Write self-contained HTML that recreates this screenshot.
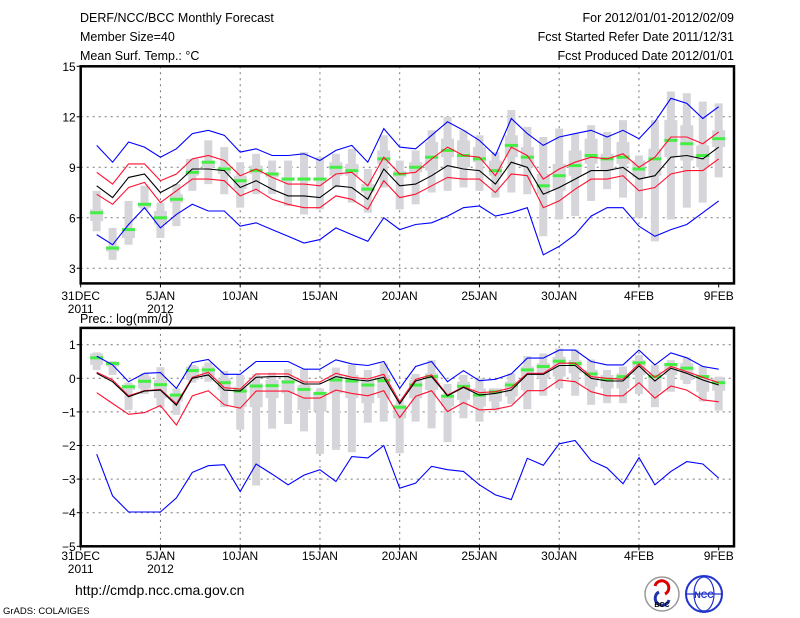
<!DOCTYPE html>
<html><head><meta charset="utf-8">
<style>
body{margin:0;background:#fff;}
svg{display:block;font-family:"Liberation Sans",sans-serif;}
text{fill:#000;}
</style></head>
<body>
<svg id="chart" width="800" height="618" viewBox="0 0 800 618" xmlns="http://www.w3.org/2000/svg">
<rect x="0" y="0" width="800" height="618" fill="#fff"/>
<g font-size="12.5">
<text x="80" y="22">DERF/NCC/BCC Monthly Forecast</text>
<text x="80" y="41">Member Size=40</text>
<text x="80" y="60">Mean Surf. Temp.: °C</text>
<text x="734" y="22" text-anchor="end">For 2012/01/01-2012/02/09</text>
<text x="734" y="41" text-anchor="end">Fcst Started Refer Date 2011/12/31</text>
<text x="734" y="60" text-anchor="end">Fcst Produced Date 2012/01/01</text>
</g>
<text x="80" y="323" font-size="12.5">Prec.: log(mm/d)</text>
<text x="75" y="595" font-size="14">http://cmdp.ncc.cma.gov.cn</text>
<text x="3" y="614" font-size="9.5">GrADS: COLA/IGES</text>
<g>
<circle cx="662" cy="594" r="17" fill="#fff" stroke="#999" stroke-width="1.5"/>
<path d="M655 586 a7 7 0 1 1 10 8" fill="none" stroke="#d00" stroke-width="3"/>
<path d="M669 600 a7 7 0 1 1 -10 -8" fill="none" stroke="#23a" stroke-width="3"/>
<text x="662" y="607" font-size="7" text-anchor="middle" font-weight="bold">BCC</text>
</g>
<g>
<circle cx="704" cy="594" r="18" fill="#fff" stroke="#23c" stroke-width="2"/>
<ellipse cx="704" cy="594" rx="10" ry="17" fill="none" stroke="#23c" stroke-width="1.2"/>
<line x1="686" y1="594" x2="722" y2="594" stroke="#23c" stroke-width="1.2"/>
<text x="704" y="598" font-size="9" text-anchor="middle" fill="#23c" style="fill:#23c" font-weight="bold">NCC</text>
</g>
<g id="top"></g>
<g id="bot"></g>
</svg>
<script>
// ---- data: top panel (temperature, days 1..40) ----
const dayTicks = [0,5,10,15,20,25,30,35,40];
const dayLabels = ["31DEC","5JAN","10JAN","15JAN","20JAN","25JAN","30JAN","4FEB","9FEB"];
const yearLabels = ["2011","2012","","","","","","",""];
const tTicks = [15,12,9,6,3];
const tMax = [10.3,9.3,10.5,10.2,9.6,10.1,11.0,11.2,10.9,9.9,10.1,9.7,9.7,9.8,9.4,10.0,10.3,9.3,11.3,10.2,10.1,10.9,11.7,11.2,10.6,9.7,11.9,11.0,10.3,10.8,11.0,11.2,10.8,11.2,10.7,11.7,13.1,12.8,11.9,12.6];
const tUp = [8.7,8.0,9.2,9.2,8.2,8.6,9.5,9.7,9.4,8.5,8.9,8.4,8.0,8.0,7.9,8.6,8.7,7.9,9.6,8.6,8.7,9.5,10.2,9.7,9.6,8.5,10.2,9.7,8.3,8.9,9.3,9.6,9.5,9.8,9.0,9.6,10.8,10.8,10.4,11.1];
const tMean = [7.9,7.2,8.4,8.6,7.5,8.0,8.9,8.9,8.8,7.8,8.2,7.7,7.3,7.3,7.2,7.9,7.8,7.1,8.9,7.9,8.0,8.5,9.1,8.9,8.8,8.0,9.3,9.0,7.4,7.8,8.3,8.8,8.8,9.0,8.3,8.5,9.6,9.7,9.5,10.2];
const tLo = [7.4,6.8,7.8,8.1,6.9,7.6,8.3,8.3,8.2,7.3,7.7,7.1,6.8,6.6,6.6,7.3,7.1,6.5,8.2,7.2,7.4,7.9,8.4,8.3,8.3,7.5,8.6,8.5,6.6,7.0,7.7,8.3,8.3,8.5,7.6,7.8,8.6,8.8,8.8,9.5];
const tMin = [5.0,4.4,5.6,6.6,5.4,6.2,6.8,6.4,6.4,5.5,5.7,5.3,4.9,4.5,4.7,5.4,5.0,4.6,6.0,5.3,5.6,5.7,6.1,6.6,6.7,6.1,6.3,6.6,3.8,4.3,5.0,6.1,6.6,6.6,5.5,4.9,5.3,5.6,6.3,7.0];
const tObs = [6.3,4.2,5.3,6.8,6.0,7.1,8.7,9.3,8.9,8.2,8.8,8.6,8.3,8.3,8.3,9.0,8.8,7.7,9.5,8.6,9.0,9.6,10.0,9.7,9.5,8.8,10.3,9.6,7.9,8.5,9.1,9.7,9.5,9.6,8.9,9.5,10.6,10.4,9.7,10.7];
const tWhHi = [7.6,5.4,7.0,7.9,6.9,8.0,9.5,10.6,10.2,9.3,9.8,9.4,9.4,9.9,9.6,9.8,10.1,8.9,10.9,9.4,10.0,11.2,12.0,11.2,10.9,9.9,12.4,11.4,10.8,11.3,11.0,11.5,11.1,11.8,9.7,11.8,13.5,13.4,12.9,12.8];
const tWhLo = [5.2,3.5,4.4,6.5,4.8,5.5,7.6,8.0,7.4,6.6,7.4,7.4,6.7,6.2,6.5,7.8,6.9,6.3,7.8,6.5,6.8,7.5,7.6,7.8,7.6,7.2,7.5,7.4,4.9,5.9,6.1,7.0,7.7,7.2,6.0,4.6,5.9,6.6,6.9,8.4];
const tQHi = [6.5,4.3,5.3,6.9,6.4,7.4,9.5,9.4,9.0,8.5,9.1,8.7,8.4,8.4,8.3,9.3,9.2,8.0,10.0,8.8,9.3,10.5,10.7,10.6,10.2,9.4,10.9,10.2,8.6,9.2,10.0,10.7,9.8,10.5,9.4,10.1,11.8,11.5,10.3,11.2];
const tQLo = [5.8,4.0,4.8,6.6,5.6,6.9,8.5,9.0,8.6,7.7,8.6,8.4,8.2,8.2,8.2,8.5,8.5,7.5,9.2,8.4,8.7,8.8,9.6,9.0,9.3,8.5,9.6,9.0,7.4,7.6,8.5,9.2,8.8,9.2,8.4,8.5,9.6,9.4,9.0,10.2];
// ---- data: bottom panel (precip log, days 1..40) ----
const pTicks = [1,0,-1,-2,-3,-4,-5];
const pMax = [0.66,0.4,-0.1,0.15,0.17,-0.3,0.47,0.56,0.12,0.12,0.5,0.5,0.5,0.27,0.27,0.55,0.43,0.38,0.5,-0.3,0.35,0.5,-0.1,0.23,-0.07,-0.03,0.13,0.6,0.6,0.84,0.84,0.5,0.4,0.4,0.84,0.4,0.76,0.61,0.35,0.27];
const pUp = [0.18,-0.05,-0.52,-0.37,-0.33,-0.76,0.03,0.18,-0.28,-0.32,0.13,0.13,0.13,-0.11,-0.11,0.15,0.03,-0.02,0.12,-0.7,-0.03,0.1,-0.5,-0.25,-0.43,-0.4,-0.28,0.15,0.15,0.45,0.45,0.05,0,-0.03,0.43,0.03,0.35,0.2,0.03,-0.13];
const pMean = [0.15,-0.1,-0.55,-0.38,-0.35,-0.8,0.0,0.1,-0.35,-0.38,0.03,0.05,0.05,-0.17,-0.17,0.05,-0.03,-0.08,0.03,-0.76,-0.08,0.05,-0.52,-0.27,-0.5,-0.45,-0.35,0.12,0.12,0.38,0.38,0,-0.08,-0.08,0.37,-0.08,0.3,0.15,-0.05,-0.2];
const pLo = [-0.43,-0.75,-1.07,-1.02,-0.81,-1.39,-0.52,-0.37,-0.79,-0.89,-0.38,-0.38,-0.38,-0.59,-0.59,-0.35,-0.45,-0.52,-0.37,-1.17,-0.54,-0.37,-0.99,-0.72,-0.94,-0.92,-0.82,-0.37,-0.37,-0.05,-0.1,-0.4,-0.52,-0.52,-0.13,-0.59,-0.23,-0.35,-0.64,-0.7];
const pMin = [-2.26,-3.5,-3.98,-3.98,-3.98,-3.56,-2.8,-2.6,-2.57,-3.37,-2.55,-2.85,-3.17,-2.88,-2.72,-3.07,-2.33,-2.37,-2.0,-3.27,-3.12,-2.62,-2.72,-2.77,-3.17,-3.47,-3.61,-2.38,-2.59,-1.95,-1.85,-2.45,-2.67,-3.14,-2.36,-3.17,-2.77,-2.48,-2.55,-2.97];
const pObs = [0.61,0.44,-0.25,-0.09,-0.19,-0.5,0.23,0.25,-0.13,-0.38,-0.23,-0.22,-0.11,-0.33,-0.45,-0.05,-0.08,-0.2,-0.07,-0.86,-0.2,0.05,-0.53,-0.24,-0.5,-0.4,-0.2,0.25,0.35,0.51,0.44,0.13,-0.03,0.05,0.46,0.05,0.41,0.3,0.05,-0.13];
const pWhHi = [0.77,0.51,-0.13,0.15,0.33,-0.3,0.4,0.47,0.22,0.1,0.13,0.17,0.27,0.27,-0.3,0.32,0.4,0.25,0.45,-0.64,0.13,0.54,-0.17,0.1,0,-0.3,0.15,0.66,0.74,0.89,0.86,0.56,0.25,0.35,0.69,0.4,0.54,0.62,0.37,0.05];
const pWhLo = [0.25,0.1,-0.94,-0.47,-0.86,-1.09,-0.13,-0.1,-0.86,-1.53,-3.19,-1.5,-1.36,-1.58,-2.25,-2.13,-2.2,-1.32,-1.29,-2.23,-1.29,-1.49,-1.9,-1.19,-1.29,-0.96,-0.76,-0.92,-0.52,-0.3,-0.52,-0.79,-0.74,-0.74,-0.47,-0.86,-0.4,-0.17,-0.69,-0.96];
const pQHi = [0.74,0.49,-0.19,0.05,-0.05,-0.45,0.35,0.35,0,-0.25,-0.15,-0.05,-0.05,-0.2,-0.4,0.1,0.1,0,0.1,-0.79,-0.05,0.15,-0.5,-0.1,-0.3,-0.3,-0.1,0.35,0.45,0.64,0.54,0.25,0.1,0.15,0.54,0.2,0.45,0.45,0.1,0];
const pQLo = [0.4,0.35,-0.35,-0.3,-0.59,-0.69,-0.05,0.05,-0.35,-0.86,-0.86,-0.59,-0.45,-0.94,-0.99,-0.45,-0.59,-0.74,-0.59,-1.19,-0.59,-0.35,-0.84,-0.64,-0.84,-0.69,-0.54,-0.35,0,0.05,0.15,-0.25,-0.3,-0.3,0.1,-0.4,0.1,-0.05,-0.4,-0.37];

const NS="http://www.w3.org/2000/svg";
const X0=80.7, X1=734, DX=15.95;
function xDay(d){return X0+DX*d;}
function yTop(v){return 66.3+(15-v)*16.83;}
function yBot(v){return 378.3-v*33.6;}
function mk(parent,tag,attrs){const e=document.createElementNS(NS,tag);for(const k in attrs)e.setAttribute(k,attrs[k]);parent.appendChild(e);return e;}

function panel(g,yf,vTop,vBot,ticks,labY,series){
  const top=yf(vTop), bot=yf(vBot);
  ticks.forEach(t=>{
    const y=yf(t);
    if(y>top+1&&y<bot-1){
      const l=mk(g,'line',{x1:X0,x2:X1,y1:y,y2:y,stroke:'#777','stroke-width':1,'stroke-dasharray':'2,4'});
      
      
    }
    const tk=mk(g,'line',{x1:X0-4,x2:X0,y1:y,y2:y,stroke:'#000','stroke-width':1});
    
    
    const tx=mk(g,'text',{x:X0-5,y:y+4.5,'text-anchor':'end','font-size':12});
    tx.textContent=String(t).replace('-','\u2212');
    
    
  });
  dayTicks.forEach((d,i)=>{
    const x=xDay(d);
    if(d>0&&d<40){
      const l=mk(g,'line',{x1:x,x2:x,y1:top,y2:bot,stroke:'#777','stroke-width':1,'stroke-dasharray':'2,4'});
      
      
    }
    const tk=mk(g,'line',{x1:x,x2:x,y1:bot,y2:bot+4,stroke:'#000'});
    
    
    const t=mk(g,'text',{x:x,y:labY,'text-anchor':'middle','font-size':12});
    t.textContent=dayLabels[i];
    
    
    if(yearLabels[i]){
      const t2=mk(g,'text',{x:x,y:labY+13,'text-anchor':'middle','font-size':12});
      t2.textContent=yearLabels[i];
      
      
    }
  });
  for(let i=0;i<40;i++){
    const x=xDay(i+1);
    const a=yf(series.whHi[i]), b=yf(series.whLo[i]);
    const w=mk(g,'rect',{x:x-4,y:a,width:8,height:Math.max(1,b-a),fill:'#d6d6da'});
    
    
    const c=yf(series.qHi[i]), e=yf(series.qLo[i]);
    const q=mk(g,'rect',{x:x-6.5,y:c,width:13,height:Math.max(1,e-c),fill:'#d6d6da'});
    
    
  }
  for(let i=0;i<40;i++){
    const x=xDay(i+1), y=yf(series.obs[i]);
    const r=mk(g,'rect',{x:x-6.5,y:y-1.5,width:13,height:3,fill:'#44ee44'});
    
    
  }
  [['max','#0000ff','max-line'],['min','#0000ff','min-line'],['up','#ff1030','upper-line'],['lo','#ff1030','lower-line'],['mean','#000','mean-line']].forEach(s=>{
    const pts=series[s[0]].map((v,i)=>xDay(i+1).toFixed(1)+','+yf(v).toFixed(1)).join(' ');
    const p=mk(g,'polyline',{points:pts,fill:'none',stroke:s[1],'stroke-width':1.1});
    
    
  });
  const fr=mk(g,'rect',{x:X0,y:top,width:X1-X0,height:bot-top,fill:'none',stroke:'#000','stroke-width':2.5});
  
  
}
const gt=document.getElementById('top');


panel(gt,yTop,15,2.1,tTicks,300,{max:tMax,up:tUp,mean:tMean,lo:tLo,min:tMin,obs:tObs,whHi:tWhHi,whLo:tWhLo,qHi:tQHi,qLo:tQLo});
const gb=document.getElementById('bot');


panel(gb,yBot,1.5,-5,pTicks,560,{max:pMax,up:pUp,mean:pMean,lo:pLo,min:pMin,obs:pObs,whHi:pWhHi,whLo:pWhLo,qHi:pQHi,qLo:pQLo});
</script>
</body></html>
